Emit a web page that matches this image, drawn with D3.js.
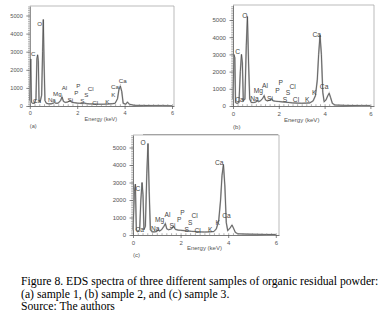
<!DOCTYPE html>
<html>
<head>
<meta charset="utf-8">
<script src="https://cdn.jsdelivr.net/npm/d3@7"></script>
<style>
  body { margin: 0; background: #fff; }
  svg text { font-family: "Liberation Sans", Arial, sans-serif; }
</style>
</head>
<body>
<div id="chart"></div>
<script>
// energy (keV), counts
const spectrumA = [[0,300],[0.04,2600],[0.07,200],[0.12,150],[0.2,150],[0.26,400],[0.3,2600],[0.33,2830],[0.36,2500],[0.39,300],[0.44,250],[0.5,600],[0.54,3000],[0.57,4780],[0.6,2500],[0.64,300],[0.7,150],[0.8,120],[0.9,120],[1.0,160],[1.05,200],[1.1,150],[1.2,160],[1.3,300],[1.36,500],[1.42,250],[1.5,200],[1.6,220],[1.7,300],[1.78,200],[1.9,180],[2.0,160],[2.1,150],[2.2,140],[2.3,160],[2.4,130],[2.5,120],[2.7,110],[2.9,100],[3.1,100],[3.3,110],[3.5,130],[3.6,150],[3.7,400],[3.76,900],[3.82,1100],[3.88,800],[3.94,150],[4.05,100],[4.12,220],[4.2,100],[4.4,40],[4.8,30],[5.2,20],[5.6,20],[6.0,10]];
const spectrumB = [[0,400],[0.04,3000],[0.08,2800],[0.11,200],[0.18,150],[0.26,200],[0.32,2000],[0.37,3000],[0.41,2500],[0.45,300],[0.52,400],[0.58,3500],[0.63,5200],[0.68,2500],[0.73,400],[0.8,200],[0.9,200],[1.0,230],[1.05,300],[1.12,250],[1.2,300],[1.3,450],[1.36,600],[1.42,350],[1.5,300],[1.62,350],[1.68,420],[1.75,300],[1.85,280],[2.0,260],[2.15,240],[2.3,220],[2.45,200],[2.6,180],[2.8,170],[3.0,160],[3.2,170],[3.35,180],[3.5,300],[3.6,600],[3.68,1500],[3.74,3000],[3.8,4120],[3.86,3000],[3.92,800],[3.98,250],[4.06,350],[4.14,600],[4.2,740],[4.26,500],[4.34,150],[4.45,60],[4.8,40],[5.2,30],[5.6,20],[6.0,20]];
const spectrumC = [[0,300],[0.06,2500],[0.1,2910],[0.14,300],[0.2,200],[0.28,300],[0.33,2000],[0.38,3000],[0.42,2300],[0.46,300],[0.52,500],[0.58,3500],[0.63,5230],[0.68,2500],[0.73,300],[0.8,180],[0.9,180],[1.0,200],[1.05,300],[1.12,230],[1.2,300],[1.3,500],[1.36,650],[1.42,350],[1.5,300],[1.62,350],[1.7,500],[1.78,320],[1.9,280],[2.0,270],[2.15,250],[2.3,230],[2.45,210],[2.6,200],[2.8,180],[3.0,170],[3.2,180],[3.4,200],[3.5,350],[3.6,800],[3.68,2000],[3.74,3400],[3.8,4030],[3.86,2800],[3.92,700],[3.98,250],[4.08,400],[4.16,570],[4.22,400],[4.3,150],[4.4,70],[4.8,50],[5.2,40],[5.6,30],[6.0,30]];

// element labels: name, energy, counts
const labelsA = [["C",0.15,2910],["O",0.42,4560],["Ca",0.30,330],["Na",0.93,385],["Mg",1.16,714],["Al",1.46,1044],["Si",1.71,385],["P",2.05,1154],["P",1.96,769],["S",2.38,659],["Cl",2.57,989],["S",2.22,330],["Cl",2.76,220],["K",3.27,275],["K",3.52,659],["Ca",3.59,1099],["Ca",3.92,1429]];
const labelsB = [["C",0.2,3157],["O",0.52,5233],["Ca",0.28,390],["Na",0.94,407],["Mg",1.11,890],["Al",1.40,1163],["Si",1.62,424],["P",2.08,1355],["P",1.94,930],["Cl",2.60,1122],["S",2.40,756],["S",2.27,390],["Cl",2.75,349],["K",3.24,390],["K",3.55,773],["Ca",3.66,4186],["Ca",3.98,1105]];
const labelsC = [["C",0.2,2684],["O",0.42,5270],["Ca",0.28,328],["Na",0.93,385],["Mg",1.12,902],["Al",1.45,1190],["Si",1.66,517],["P",2.08,1282],["P",1.94,902],["Cl",2.59,1092],["S",2.40,707],["S",2.26,328],["Cl",2.71,247],["K",3.24,328],["K",3.56,707],["Ca",3.62,4155],["Ca",3.93,1109]];

const energyTicks = [0, 2, 4, 6];
const countTicks = [0, 1000, 2000, 3000, 4000, 5000];
const panelTags = ["(a)", "(b)", "(c)"];
const captionLines = [
  "Figure 8. EDS spectra of three different samples of organic residual powder:",
  "(a) sample 1, (b) sample 2, and (c) sample 3.",
  "Source: The authors"
];

// pixel layout of each panel
const panels = [
  {spectrum: spectrumA, labels: labelsA, tag: panelTags[0], x0: 29.8, kev: 23.7, y0: 106, per1000: 18.1, top: 6, right: 174, fs: 5.6},
  {spectrum: spectrumB, labels: labelsB, tag: panelTags[1], x0: 233, kev: 22.9, y0: 106, per1000: 17.2, top: 5, right: 374, fs: 6.1},
  {spectrum: spectrumC, labels: labelsC, tag: panelTags[2], x0: 133, kev: 23.8, y0: 235, per1000: 17.5, top: 135, right: 279, fs: 6.0}
];

const svg = d3.select("#chart").append("svg")
  .attr("width", 383)
  .attr("height", 314);

// thin rule above panel c
svg.append("line")
  .attr("x1", 143).attr("x2", 278)
  .attr("y1", 134.5).attr("y2", 134.5)
  .attr("stroke", "#888").attr("stroke-width", 0.8);

panels.forEach(p => {
  let x = d3.scaleLinear([0, (p.right - p.x0) / p.kev], [p.x0, p.right]);
  let y = d3.scaleLinear([0, (p.y0 - p.top) / p.per1000 * 1000], [p.y0, p.top]);
  let g = svg.append("g");

  // frame top + right
  g.append("path")
    .attr("d", `M${x.range()[0]},${y.range()[1]}H${x.range()[1]}V${y.range()[0]}`)
    .attr("fill", "none").attr("stroke", "#aaa").attr("stroke-width", 0.8);

  // y axis, minor then major
  g.append("g")
    .attr("transform", `translate(${x(0)},0)`)
    .call(d3.axisLeft(y).tickValues(d3.range(0, y.domain()[1], 100)).tickSize(1.8).tickFormat(""))
    .call(a => a.select(".domain").remove())
    .selectAll("line").attr("stroke", "#666").attr("stroke-width", 0.5);
  let ya = g.append("g")
    .attr("transform", `translate(${x(0)},0)`)
    .call(d3.axisLeft(y).tickValues(countTicks).tickFormat(d3.format("d"))
      .tickSize(3.5).tickSizeOuter(0).tickPadding(3.5));
  ya.select(".domain").attr("stroke", "#555").attr("stroke-width", 0.8);
  ya.selectAll("line").attr("stroke", "#555").attr("stroke-width", 0.7);
  ya.selectAll("text").attr("fill", "#555").style("font-size", p.fs + "px");

  // x axis
  g.append("g")
    .attr("transform", `translate(0,${y(0)})`)
    .call(d3.axisBottom(x).tickValues(d3.range(0, 6.01, 0.2)).tickSize(-1.8).tickFormat(""))
    .call(a => a.select(".domain").remove())
    .selectAll("line").attr("stroke", "#666").attr("stroke-width", 0.5);
  let xa = g.append("g")
    .attr("transform", `translate(0,${y(0)})`)
    .call(d3.axisBottom(x).tickValues(energyTicks).tickFormat(d3.format("d"))
      .tickSize(3).tickSizeOuter(0).tickPadding(2.5));
  xa.select(".domain").attr("stroke", "#555").attr("stroke-width", 0.8);
  xa.selectAll("line").attr("stroke", "#555").attr("stroke-width", 0.7);
  xa.selectAll("text").attr("fill", "#555").style("font-size", p.fs + "px");

  // spectrum
  let line = d3.line().x(d => x(d[0])).y(d => y(d[1]));
  g.append("path")
    .datum(p.spectrum)
    .attr("d", line)
    .attr("fill", "none")
    .attr("stroke", "#bbb")
    .attr("stroke-width", 1.6);
  g.append("path")
    .datum(p.spectrum)
    .attr("d", line)
    .attr("fill", "none")
    .attr("stroke", "#444")
    .attr("stroke-width", 0.7);

  // element labels
  g.selectAll(".el")
    .data(p.labels)
    .join("text")
      .attr("class", "el")
      .attr("x", d => x(d[1]))
      .attr("y", d => y(d[2]))
      .attr("text-anchor", "middle")
      .attr("dominant-baseline", "central")
      .attr("fill", "#444")
      .style("font-size", (p.fs + 0.6) + "px")
      .text(d => d[0]);

  g.append("text")
    .attr("x", x(3))
    .attr("y", y(0) + 13)
    .attr("text-anchor", "middle")
    .attr("dominant-baseline", "central")
    .attr("fill", "#555")
    .style("font-size", p.fs + "px")
    .text("Energy (keV)");

  g.append("text")
    .attr("x", x(0))
    .attr("y", y(0) + 20)
    .attr("dominant-baseline", "central")
    .attr("fill", "#555")
    .style("font-size", p.fs + "px")
    .text(p.tag);
});

svg.selectAll(".cap")
  .data(captionLines)
  .join("text")
    .attr("class", "cap")
    .attr("x", 21)
    .attr("y", (d, i) => 285 + i * 12.6)
    .attr("fill", "#000")
    .style("font-family", "'Liberation Serif', 'Times New Roman', serif")
    .style("font-size", "11.7px")
    .text(d => d);
</script>
</body>
</html>
